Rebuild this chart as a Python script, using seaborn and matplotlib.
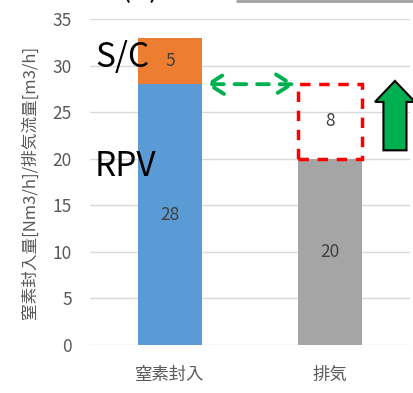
import matplotlib
matplotlib.use("Agg")
import matplotlib.pyplot as plt
import seaborn as sns
import pandas as pd
from matplotlib.patches import Rectangle, FancyArrow
from matplotlib.lines import Line2D

categories = ["窒素封入", "排気"]
base_values = [28, 20]          # RPV injection / exhaust flow
sc_values = [5, 0]              # S/C injection stacked on top
gap_value = 8                   # shortfall between injection and exhaust
y_ticks = [0, 5, 10, 15, 20, 25, 30, 35]
y_label = "窒素封入量[Nm3/h]/排気流量[m3/h]"

BLUE = "#5B9BD5"
ORANGE = "#ED7D31"
GRAY = "#A5A5A5"
GREEN = "#00B050"
RED = "#FF0000"
TICK = "#595959"
VAL = "#404040"

sns.set_theme(style="white")
plt.rcParams["font.family"] = ["Noto Sans CJK JP", "DejaVu Sans"]

fig = plt.figure(figsize=(4.14, 3.93), dpi=100)
ax = fig.add_axes([90 / 414, 1 - 345 / 393, 320 / 414, 326 / 393])

df = pd.DataFrame({"cat": categories, "val": base_values})
sns.barplot(data=df, x="cat", y="val", hue="cat", palette=[BLUE, GRAY],
            width=0.4, legend=False, ax=ax, saturation=1, zorder=2,
            linewidth=0, edgecolor="none")
ax.bar([0], [sc_values[0]], bottom=[base_values[0]], width=0.4,
       color=ORANGE, linewidth=0, zorder=2)

ax.set_xlim(-0.5, 1.5)
ax.set_ylim(0, 35)
ax.set_yticks(y_ticks)
ax.yaxis.grid(True, color="#D9D9D9", lw=1)
ax.set_axisbelow(True)
for s in ax.spines.values():
    s.set_visible(False)
ax.tick_params(axis="y", length=0, pad=13, labelsize=12.5, labelcolor=TICK)
ax.tick_params(axis="x", length=0, pad=15, labelsize=12.5, labelcolor=TICK)
ax.set_xlabel("")
ax.set_ylabel(y_label, fontsize=12, color=TICK, labelpad=10)

# value labels in the middle of each segment
ax.text(0, base_values[0] / 2, str(base_values[0]), ha="center", va="center",
        fontsize=12.5, color=VAL)
ax.text(0, base_values[0] + sc_values[0] / 2, str(sc_values[0]), ha="center",
        va="center", fontsize=12.5, color=VAL)
ax.text(1, base_values[1] / 2, str(base_values[1]), ha="center", va="center",
        fontsize=12.5, color=VAL)
ax.text(1, base_values[1] + gap_value / 2, str(gap_value), ha="center",
        va="center", fontsize=12.5, color=VAL)

# dashed box showing the shortfall on the exhaust bar
ax.add_patch(Rectangle((1 - 0.2, base_values[1]), 0.4, gap_value, fill=False,
                       edgecolor=RED, lw=2.5, linestyle=(0, (3, 2.5)),
                       zorder=3))

# dashed double arrow between the two levels
ax.annotate("", xy=(0.219, base_values[0]), xytext=(0.781, base_values[0]),
            arrowprops=dict(arrowstyle="<->,head_length=0.55,head_width=0.35",
                            color=GREEN, lw=2.8,
                            linestyle=(0, (3, 2.8)), mutation_scale=20,
                            shrinkA=0, shrinkB=0))

# upward arrow at the right edge
ax.add_patch(FancyArrow(1.406, 20.9, 0, 7.45, width=0.144, head_width=0.25,
                        head_length=2.25, length_includes_head=True,
                        facecolor=GREEN, edgecolor="black", lw=1.5,
                        clip_on=False, zorder=4))

# series names
ax.text(-0.469, 29.85, "S/C", fontsize=24, color="black", ha="left",
        va="baseline")
ax.text(-0.469, 18.15, "RPV", fontsize=24, color="black", ha="left",
        va="baseline")

# heading strip along the top edge
fig.text(140 / 414, 1 - 4 / 393, "(A)", fontsize=22, color="black",
         ha="center", va="bottom")
fig.add_artist(Line2D([237 / 414, 1], [1 - 1 / 393, 1 - 1 / 393],
                      transform=fig.transFigure, color="#A0A0A0", lw=2))

fig.savefig("out.png", dpi=100)
